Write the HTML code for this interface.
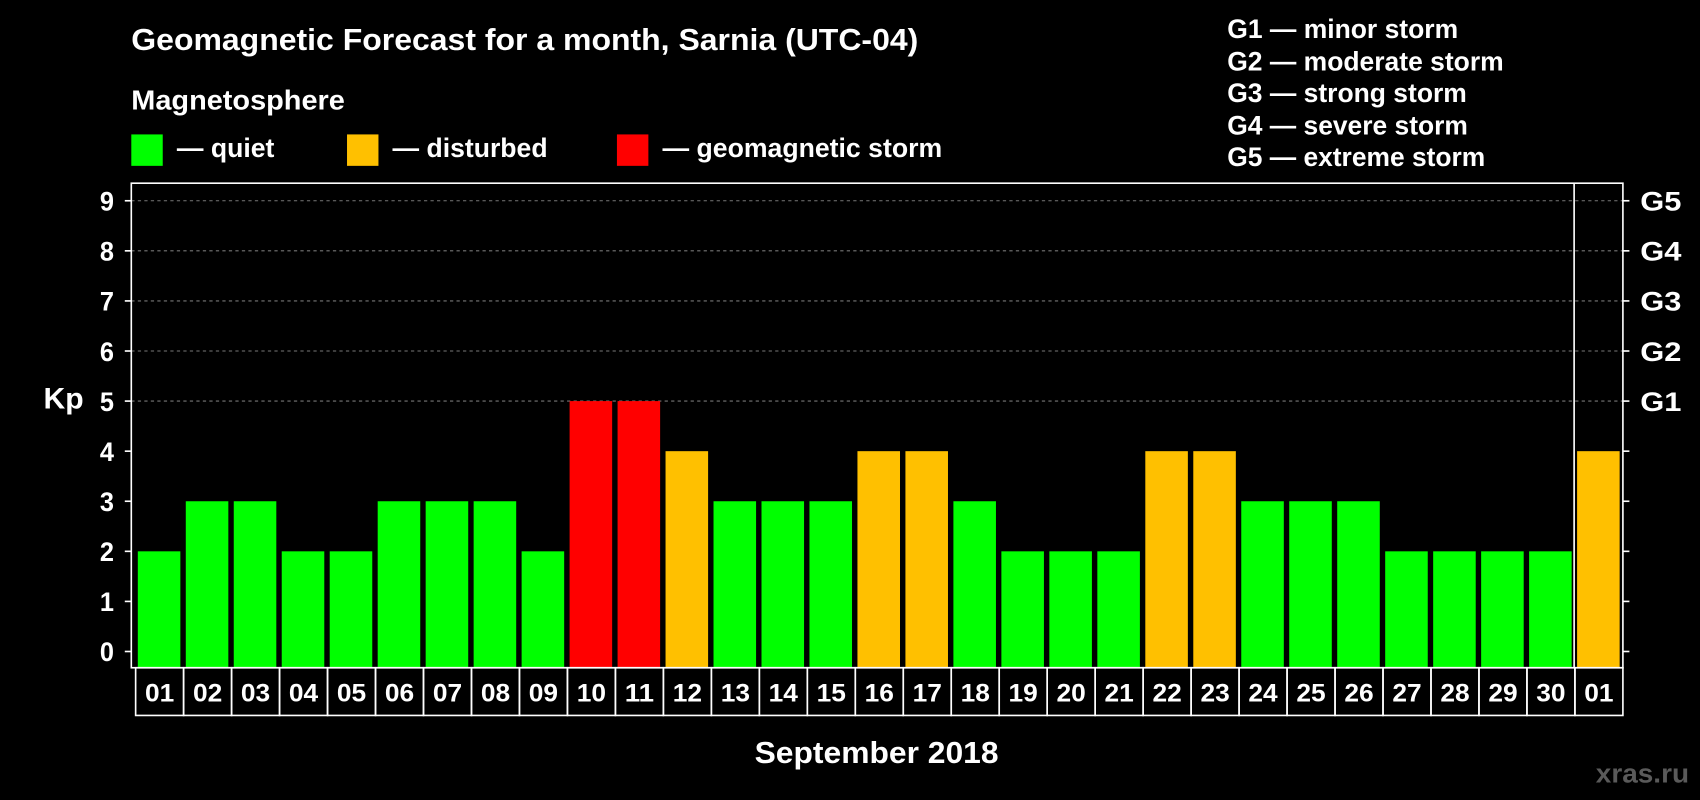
<!DOCTYPE html>
<html><head><meta charset="utf-8"><style>
html,body{margin:0;padding:0;background:#000;}
svg{display:block;}
text{font-family:"Liberation Sans",Arial,sans-serif;font-weight:bold;fill:#fff;}
</style></head><body>
<svg width="1700" height="800" viewBox="0 0 1568 738" xmlns="http://www.w3.org/2000/svg">
<rect width="1568" height="738" fill="#000"/>
<text x="121" y="46" font-size="28" textLength="726" lengthAdjust="spacingAndGlyphs">Geomagnetic Forecast for a month, Sarnia (UTC-04)</text>
<text x="121" y="101" font-size="26" textLength="197" lengthAdjust="spacingAndGlyphs">Magnetosphere</text>
<rect x="121" y="124" width="29" height="29" fill="#00ff00"/>
<text x="163" y="145" font-size="25" textLength="90" lengthAdjust="spacingAndGlyphs">— quiet</text>
<rect x="320" y="124" width="29" height="29" fill="#ffc000"/>
<text x="362" y="145" font-size="25" textLength="143" lengthAdjust="spacingAndGlyphs">— disturbed</text>
<rect x="569" y="124" width="29" height="29" fill="#ff0000"/>
<text x="611" y="145" font-size="25" textLength="258" lengthAdjust="spacingAndGlyphs">— geomagnetic storm</text>
<g font-size="25">
<text x="1132" y="35" textLength="213" lengthAdjust="spacingAndGlyphs">G1 — minor storm</text>
<text x="1132" y="65" textLength="255" lengthAdjust="spacingAndGlyphs">G2 — moderate storm</text>
<text x="1132" y="94" textLength="221" lengthAdjust="spacingAndGlyphs">G3 — strong storm</text>
<text x="1132" y="124" textLength="222" lengthAdjust="spacingAndGlyphs">G4 — severe storm</text>
<text x="1132" y="153" textLength="238" lengthAdjust="spacingAndGlyphs">G5 — extreme storm</text>
</g>
<text x="40" y="377" font-size="27" textLength="37" lengthAdjust="spacingAndGlyphs">Kp</text>
<text x="696" y="704" font-size="28" textLength="225" lengthAdjust="spacingAndGlyphs">September 2018</text>
<text x="1472" y="722" font-size="25" textLength="86" lengthAdjust="spacingAndGlyphs" style="fill:#5a5a5a">xras.ru</text>
<g id="main"></g>
<script>
const vals=[2,3,3,2,2,3,3,3,2,5,5,4,3,3,3,4,4,3,2,2,2,4,4,3,3,3,2,2,2,2,4];
const ns="http://www.w3.org/2000/svg";
const g=document.getElementById('main');
function el(t,a,txt){const e=document.createElementNS(ns,t);for(const k in a)e.setAttribute(k,a[k]);if(txt!==undefined)e.textContent=txt;g.appendChild(e);return e;}
const Y=k=>601-46.2*k;
for(let k=5;k<=9;k++)el('line',{x1:121,x2:1497,y1:Y(k),y2:Y(k),stroke:'#777','stroke-dasharray':'3,3','stroke-width':1});
const x0=125,w=1372/31;
vals.forEach((v,i)=>{
 const c=v>=5?'#ff0000':v==4?'#ffc000':'#00ff00';
 el('rect',{x:x0+i*w+2,y:Y(v),width:w-5,height:616-Y(v),fill:c});
 el('rect',{x:x0+i*w,y:616,width:w,height:44,fill:'none',stroke:'#fff','stroke-width':1.5});
 el('text',{x:x0+i*w+w/2,y:647,'font-size':23,'text-anchor':'middle',textLength:27,lengthAdjust:'spacingAndGlyphs'},String(i<30?i+1:1).padStart(2,'0'));
});
el('rect',{x:121,y:169,width:1376,height:447,fill:'none',stroke:'#fff','stroke-width':1.5});
el('line',{x1:1452,x2:1452,y1:169,y2:616,stroke:'#fff','stroke-width':1.5});
const G=['','','','','','G1','G2','G3','G4','G5'];
for(let k=0;k<=9;k++){
 el('line',{x1:115,x2:121,y1:Y(k),y2:Y(k),stroke:'#fff','stroke-width':1.5});
 el('line',{x1:1497,x2:1503,y1:Y(k),y2:Y(k),stroke:'#fff','stroke-width':1.5});
 el('text',{x:105,y:Y(k)+9,'font-size':25,'text-anchor':'end',textLength:13,lengthAdjust:'spacingAndGlyphs'},String(k));
 if(G[k])el('text',{x:1513,y:Y(k)+9,'font-size':25,textLength:38,lengthAdjust:'spacingAndGlyphs'},G[k]);
}
</script>
</svg>
</body></html>
